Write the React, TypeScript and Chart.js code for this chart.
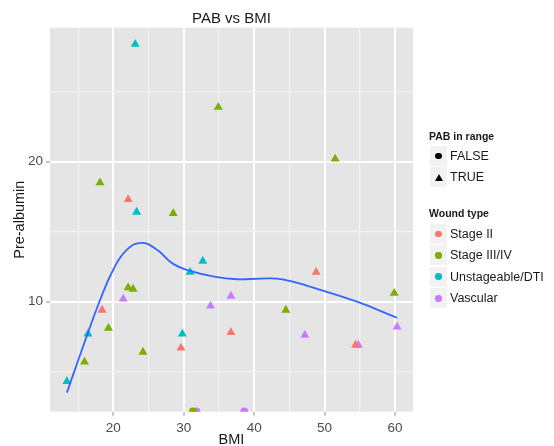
import React, { useEffect, useRef } from "react";
import { Chart, registerables } from "chart.js";
Chart.register(...registerables);

const woundTypes = ["Stage II", "Stage III/IV", "Unstageable/DTI", "Vascular"];
const woundColors = ["#F8766D", "#7CAE00", "#00BFC4", "#C77CFF"];
const rangeLabels = ["FALSE", "TRUE"];

// observations: BMI, pre-albumin, wound type index, PAB in range
const bmi = [23.1, 34.9, 18.1, 22.1, 23.3, 28.5, 51.5, 32.7, 30.9, 22.1, 22.8, 21.4, 36.7, 33.8, 18.4, 19.3, 16.4, 29.8, 36.7, 29.6, 24.2, 15.9, 13.4, 48.8, 59.9, 44.5, 47.2, 60.3, 54.4, 54.8, 31.3, 31.8, 38.6];
const pab = [28.4, 23.9, 18.5, 17.3, 16.4, 16.3, 20.2, 12.9, 12.1, 11.0, 10.9, 10.2, 10.4, 9.7, 9.4, 8.1, 7.7, 7.7, 7.8, 6.7, 6.4, 5.7, 4.3, 12.1, 10.6, 9.4, 7.6, 8.2, 6.9, 6.9, 2.15, 2.15, 2.15];
const wound = [2, 1, 1, 0, 2, 1, 1, 2, 2, 1, 1, 3, 3, 3, 0, 1, 2, 2, 0, 0, 1, 1, 2, 0, 1, 1, 3, 3, 0, 3, 1, 3, 3];
const inRange = [true, true, true, true, true, true, true, true, true, true, true, true, true, true, true, true, true, true, true, true, true, true, true, true, true, true, true, true, true, true, false, false, false];

// loess smoother
const smoothBmi = [13.4, 15.7, 18.1, 20.0, 21.9, 24.0, 26.2, 28.5, 30.9, 34.2, 37.5, 41.0, 44.0, 48.4, 54.6, 60.3];
const smoothPab = [3.5, 6.8, 10.1, 12.3, 13.7, 14.2, 13.7, 12.7, 12.2, 11.8, 11.6, 11.65, 11.6, 11.0, 10.0, 8.85];

const xTicks = [15, 20, 25, 30, 35, 40, 45, 50, 55, 60];
const xLabels = [20, 30, 40, 50, 60];
const yTicks = [5, 10, 15, 20, 25];
const yLabels = [10, 20];

const FONT = "'Liberation Sans', Arial, Helvetica, sans-serif";

export default function App() {
  const ref = useRef<HTMLCanvasElement | null>(null);
  useEffect(() => {
    const canvas = ref.current!;
    const datasets: any[] = [];
    for (let r = 0; r < 2; r++) {
      for (let w = 0; w < woundTypes.length; w++) {
        const pts: any[] = [];
        for (let i = 0; i < bmi.length; i++) {
          if (wound[i] === w && inRange[i] === (r === 1)) pts.push({ x: bmi[i], y: pab[i] });
        }
        if (!pts.length) continue;
        datasets.push({
          label: woundTypes[w] + " " + rangeLabels[r],
          data: pts,
          pointStyle: r === 1 ? "triangle" : "circle",
          pointRadius: r === 1 ? 5.2 : 4,
          backgroundColor: woundColors[w],
          borderColor: woundColors[w],
          borderWidth: 0,
          showLine: false,
          clip: 0,
        });
      }
    }
    datasets.unshift({
      label: "loess",
      data: smoothBmi.map((x, i) => ({ x, y: smoothPab[i] })),
      showLine: true,
      borderColor: "#3366FF",
      borderWidth: 1.8,
      pointRadius: 0,
      tension: 0.45,
      cubicInterpolationMode: "default",
      fill: false,
      clip: 0,
      order: -1,
    });

    const panelBg = {
      id: "panelBg",
      beforeDraw(chart: any) {
        const { ctx, chartArea: a } = chart;
        ctx.save();
        ctx.fillStyle = "#E5E5E5";
        ctx.fillRect(a.left, a.top, a.right - a.left, a.bottom - a.top);
        ctx.restore();
      },
    };

    const isMajorX = (v: number) => xLabels.includes(v);
    const isMajorY = (v: number) => yLabels.includes(v);

    const chart = new Chart(canvas, {
      type: "scatter",
      data: { datasets },
      plugins: [panelBg],
      options: {
        animation: false,
        responsive: false,
        devicePixelRatio: 1,
        layout: { padding: { left: 0, right: 141, top: 0, bottom: 0 } },
        plugins: {
          legend: { display: false },
          tooltip: { enabled: false },
          title: {
            display: true,
            text: "PAB vs BMI",
            fullSize: false,
            color: "#1a1a1a",
            font: { family: FONT, size: 15, weight: "normal", lineHeight: 1.2 },
            padding: { top: 9.5, bottom: 0.2 },
          },
        },
        scales: {
          x: {
            type: "linear",
            min: 11.0,
            max: 62.56,
            afterBuildTicks: (s: any) => {
              s.ticks = xTicks.map((v) => ({ value: v }));
            },
            afterFit: (s: any) => {
              s.height = 34.3;
            },
            border: { display: false },
            grid: {
              color: (c: any) => (c.tick && isMajorX(c.tick.value) ? "#FFFFFF" : "#F2F2F2"),
              lineWidth: (c: any) => (c.tick && isMajorX(c.tick.value) ? 2 : 1.2),
              drawTicks: true,
              tickLength: 4,
              tickWidth: 1,
              tickColor: (c: any) => (c.tick && isMajorX(c.tick.value) ? "#8a8a8a" : "rgba(0,0,0,0)"),
            },
            ticks: {
              autoSkip: false,
              maxRotation: 0,
              padding: 4,
              color: "#4d4d4d",
              font: { family: FONT, size: 13.5 },
              callback: (v: any) => (isMajorX(Number(v)) ? String(v) : ""),
            },
            title: {
              display: true,
              text: "BMI",
              color: "#1a1a1a",
              font: { family: FONT, size: 14.5, lineHeight: 1.2 },
              padding: { top: 0, bottom: -2.7 },
            },
          },
          y: {
            type: "linear",
            min: 2.14,
            max: 29.57,
            afterBuildTicks: (s: any) => {
              s.ticks = yTicks.map((v) => ({ value: v }));
            },
            afterFit: (s: any) => {
              s.width = 50;
            },
            border: { display: false },
            grid: {
              color: (c: any) => (c.tick && isMajorY(c.tick.value) ? "#FFFFFF" : "#F2F2F2"),
              lineWidth: (c: any) => (c.tick && isMajorY(c.tick.value) ? 2 : 1.2),
              drawTicks: true,
              tickLength: 4,
              tickWidth: 1,
              tickColor: (c: any) => (c.tick && isMajorY(c.tick.value) ? "#8a8a8a" : "rgba(0,0,0,0)"),
            },
            ticks: {
              autoSkip: false,
              padding: 3,
              color: "#4d4d4d",
              font: { family: FONT, size: 13.5 },
              callback: (v: any) => (isMajorY(Number(v)) ? String(v) : ""),
            },
            title: {
              display: true,
              text: "Pre-albumin",
              color: "#1a1a1a",
              font: { family: FONT, size: 14.5, lineHeight: 1.2 },
              padding: { top: 11.3, bottom: 0 },
            },
          },
        },
      },
    } as any);
    return () => chart.destroy();
  }, []);

  const keyBox = (top: number, child: React.ReactNode) => (
    <div
      style={{
        position: "absolute",
        left: 430,
        top: top - 10,
        width: 17,
        height: 20,
        background: "#F2F2F2",
        display: "flex",
        alignItems: "center",
        justifyContent: "center",
      }}
    >
      {child}
    </div>
  );
  const label = (top: number, text: string, bold = false) => (
    <div
      style={{
        position: "absolute",
        left: bold ? 429 : 450,
        top: top - 9,
        height: 18,
        lineHeight: "18px",
        fontFamily: FONT,
        fontSize: bold ? 10.5 : 12.5,
        fontWeight: bold ? "bold" : "normal",
        color: "#1a1a1a",
        whiteSpace: "nowrap",
      }}
    >
      {text}
    </div>
  );
  const dot = (color: string) => (
    <div style={{ width: 6.5, height: 6.5, borderRadius: "50%", background: color }} />
  );
  const tri = (color: string) => (
    <svg width="8" height="7" viewBox="0 0 8 7">
      <polygon points="4,0 8,7 0,7" fill={color} />
    </svg>
  );
  const woundRows = [234, 255.3, 276.7, 298.3];

  return (
    <div style={{ position: "absolute", left: 0, top: 0, width: 554, height: 446, background: "#fff", overflow: "hidden" }}>
      <canvas ref={ref} width={554} height={446} style={{ position: "absolute", left: 0, top: 0, width: 554, height: 446 }} />
      {label(135.7, "PAB in range", true)}
      {keyBox(156, dot("#000"))}
      {label(156, rangeLabels[0])}
      {keyBox(177, tri("#000"))}
      {label(177, rangeLabels[1])}
      {label(212.7, "Wound type", true)}
      {woundTypes.map((w, i) => (
        <React.Fragment key={w}>
          {keyBox(woundRows[i], dot(woundColors[i]))}
          {label(woundRows[i], w)}
        </React.Fragment>
      ))}
    </div>
  );
}
